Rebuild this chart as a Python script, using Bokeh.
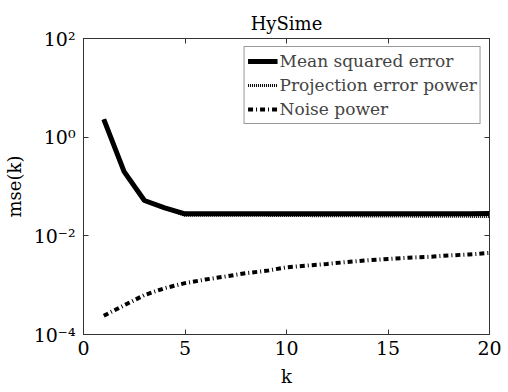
from bokeh.plotting import figure
from bokeh.models import (LogAxis, LinearAxis, FixedTicker, Range1d, Legend, LegendItem, AllLabels)
from bokeh.embed import file_html
from bokeh.resources import INLINE

k = list(range(1, 21))
mse = [2.3, 0.2, 0.052, 0.037, 0.028, 0.028, 0.028, 0.028, 0.028, 0.028,
       0.028, 0.028, 0.028, 0.028, 0.028, 0.028, 0.028, 0.028, 0.028, 0.0285]
proj = [2.3, 0.2, 0.051, 0.036, 0.026, 0.026, 0.026, 0.026, 0.026, 0.0258,
        0.0257, 0.0256, 0.0255, 0.0253, 0.0252, 0.0251, 0.025, 0.0249, 0.0248, 0.0247]
noise = [2.4e-4, 3.9e-4, 6.3e-4, 8.7e-4, 1.1e-3, 1.3e-3, 1.5e-3, 1.75e-3, 1.95e-3, 2.3e-3,
         2.5e-3, 2.7e-3, 2.95e-3, 3.2e-3, 3.4e-3, 3.6e-3, 3.75e-3, 4.0e-3, 4.2e-3, 4.5e-3]
xticks = [0, 5, 10, 15, 20]
yticks = [1e-4, 1e-2, 1e0, 1e2]
ylabels = {1e-4: "10⁻⁴", 1e-2: "10⁻²", 1e0: "10⁰", 1e2: "10²"}

FONT = "DejaVu Serif"

p = figure(width=508, height=392, y_axis_type="log", output_backend="svg",
           toolbar_location=None, x_range=Range1d(0, 20), y_range=Range1d(1e-4, 1e2),
           min_border_left=81, min_border_right=19, min_border_top=38, min_border_bottom=58)
p.title.text = "HySime"
p.title.align = "center"
p.title.text_font = FONT
p.title.text_font_size = "18px"
p.title.text_font_style = "normal"
p.title.text_color = "black"
p.grid.visible = False
p.outline_line_color = "#333333"
p.outline_line_width = 1

def style_axis(ax, labels=True):
    ax.major_tick_in = 5
    ax.major_tick_out = 0
    ax.minor_tick_line_color = None
    ax.axis_line_color = "#333333"
    ax.major_tick_line_color = "#333333"
    ax.major_label_text_font = FONT
    ax.major_label_text_font_size = "19px"
    ax.major_label_text_color = "black"
    ax.major_label_policy = AllLabels()
    ax.axis_label_text_font = FONT
    ax.axis_label_text_font_size = "18px"
    ax.axis_label_text_font_style = "normal"
    ax.axis_label_text_color = "black"
    if not labels:
        ax.major_label_text_font_size = "0px"
        ax.major_label_text_color = None

xa = p.xaxis[0]
xa.ticker = FixedTicker(ticks=xticks)
xa.axis_label = "k"
xa.axis_label_standoff = 8
xa.major_label_standoff = 6
style_axis(xa)
ya = p.yaxis[0]
ya.ticker = FixedTicker(ticks=yticks)
ya.major_label_overrides = ylabels
ya.axis_label = "mse(k)"
ya.axis_label_standoff = 6
ya.major_label_standoff = 8
style_axis(ya)

top = LinearAxis(ticker=FixedTicker(ticks=xticks))
style_axis(top, labels=False)
p.add_layout(top, "above")
right = LogAxis(ticker=FixedTicker(ticks=yticks))
style_axis(right, labels=False)
p.add_layout(right, "right")

r1 = p.line(k, mse, line_color="black", line_width=5)
r2 = p.line(k, proj, line_color="black", line_width=3, line_dash="1 1")
r3 = p.line(k, noise, line_color="black", line_width=4, line_dash="5 3 1 3")

legend = Legend(items=[LegendItem(label="Mean squared error", renderers=[r1]),
                       LegendItem(label="Projection error power", renderers=[r2]),
                       LegendItem(label="Noise power", renderers=[r3])],
                location="top_right", margin=8, padding=3, spacing=2,
                glyph_width=30, glyph_height=22, label_height=22, label_standoff=2,
                label_text_font=FONT, label_text_font_size="17px",
                border_line_color="#333333", border_line_width=1)
p.add_layout(legend)

open("out.html", "w").write(file_html(p, INLINE))
